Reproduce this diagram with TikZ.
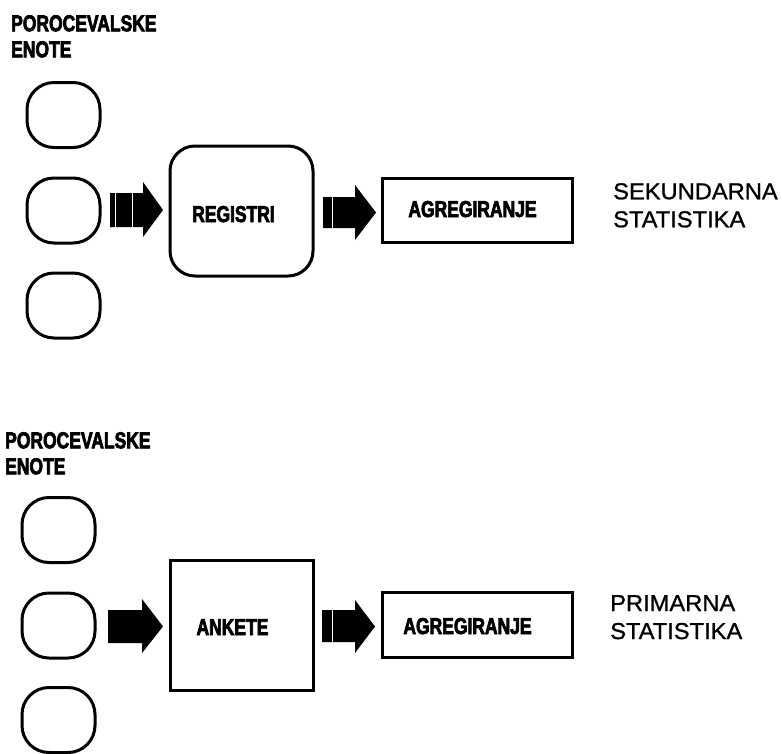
\documentclass[tikz,border=0pt]{standalone}
\usepackage{fontspec}
\setmainfont{Liberation Sans}
\newfontfamily\condbold[FakeStretch=0.76,FakeBold=3]{Liberation Sans}
\newfontfamily\plainlbl[FakeStretch=1.03,FakeBold=1]{Liberation Sans}
\begin{document}
\begin{tikzpicture}[x=1pt,y=-1pt,
  unit/.style={draw,line width=3pt,rounded corners=27pt,minimum width=73pt,minimum height=65pt,inner sep=0pt},
  regbox/.style={draw,line width=3pt,rounded corners=25pt,inner sep=0pt},
  sqbox/.style={draw,line width=3pt,inner sep=0pt},
  boldlbl/.style={font=\condbold\bfseries\fontsize{23}{26}\selectfont,inner sep=0pt,align=left},
  statlbl/.style={font=\plainlbl\fontsize{23}{28}\selectfont,inner sep=0pt,align=left,anchor=north west},
  blockarrow/.style={fill=black,draw=none},
  gapline/.style={draw=white,line width=1.2pt}
]
\useasboundingbox (0,0) rectangle (782,753);

% ---------- top part ----------
\node[boldlbl,anchor=north west] (t-units) at (11,15) {POROCEVALSKE\\ENOTE};
\node[unit] (t-u1) at (63.5,115) {};
\node[unit] (t-u2) at (63.5,210.5) {};
\node[unit] (t-u3) at (63.5,305.5) {};

\node[regbox,minimum width=143pt,minimum height=130pt] (reg) at (241.5,211) {};
\node[boldlbl,anchor=base] (reg-l) at (233.5,222) {REGISTRI};

\node[sqbox,minimum width=190pt,minimum height=64pt] (t-agr) at (477,210) {};
\node[boldlbl,anchor=base] (t-agr-l) at (472.5,217) {AGREGIRANJE};

\node[statlbl] (sek) at (613,183) {SEKUNDARNA\\STATISTIKA};

% arrow unit -> registri (with two bars)
\fill[blockarrow] (110,193) -- (143,193) -- (143,182) -- (163,210) -- (143,237) -- (143,227) -- (110,227) -- cycle;
\draw[gapline] (115.5,192) -- (115.5,228);
\draw[gapline] (132.5,192) -- (132.5,228);
% arrow registri -> agregiranje (one bar)
\fill[blockarrow] (323,197) -- (355,197) -- (355,185) -- (376,212.5) -- (355,240) -- (355,228) -- (323,228) -- cycle;
\draw[gapline] (332.5,196) -- (332.5,229);

% ---------- bottom part ----------
\node[boldlbl,anchor=north west] (b-units) at (5,432) {POROCEVALSKE\\ENOTE};
\node[unit] (b-u1) at (58.5,530) {};
\node[unit] (b-u2) at (58.5,625.5) {};
\node[unit] (b-u3) at (58.5,720) {};

\node[sqbox,minimum width=143pt,minimum height=130pt] (ank) at (241.5,625) {};
\node[boldlbl,anchor=base] (ank-l) at (232.5,635) {ANKETE};

\node[sqbox,minimum width=190pt,minimum height=65pt] (b-agr) at (477,624.5) {};
\node[boldlbl,anchor=base] (b-agr-l) at (467.5,634) {AGREGIRANJE};

\node[statlbl] (prim) at (610,595) {PRIMARNA\\STATISTIKA};

% arrow unit -> ankete (solid)
\fill[blockarrow] (108,610) -- (142,610) -- (142,599) -- (163,626.5) -- (142,653) -- (142,643) -- (108,643) -- cycle;
% arrow ankete -> agregiranje (one bar)
\fill[blockarrow] (322,610) -- (355,610) -- (355,600) -- (375,626.5) -- (355,653) -- (355,642) -- (322,642) -- cycle;
\draw[gapline] (332.5,609) -- (332.5,643);
\end{tikzpicture}
\end{document}
